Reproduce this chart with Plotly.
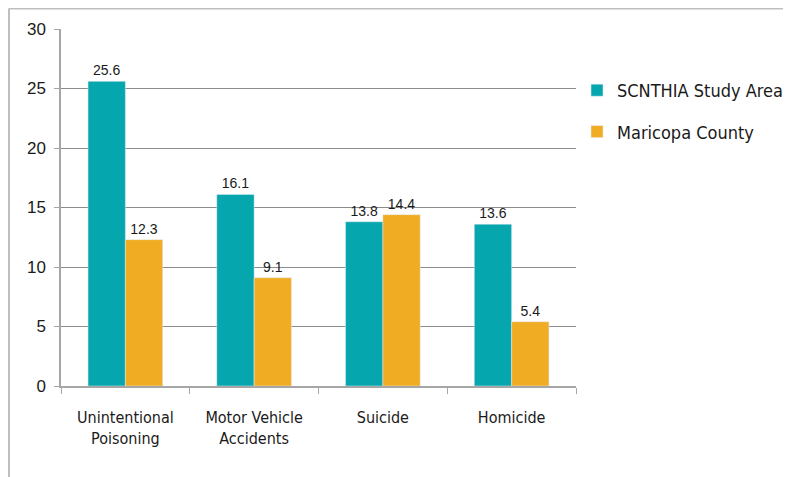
import plotly.graph_objects as go

categories = ["Unintentional<br>Poisoning", "Motor Vehicle<br>Accidents", "Suicide", "Homicide"]
scnthia = [25.6, 16.1, 13.8, 13.6]
maricopa = [12.3, 9.1, 14.4, 5.4]
series_names = ["SCNTHIA Study Area", "Maricopa County"]

narrow = "DejaVu Sans Condensed, Liberation Sans Narrow, Arial Narrow, Liberation Sans, sans-serif"
arial = "Liberation Sans, Arial, sans-serif"

fig = go.Figure()
fig.add_trace(go.Bar(x=categories, y=scnthia, name=series_names[0], marker_color="#05A6AE",
                     text=[f"{v:.1f}" for v in scnthia], textposition="outside",
                     textfont=dict(family=arial, size=14, color="#1a1a1a"),
                     cliponaxis=False, legendgroup="a"))
fig.add_trace(go.Bar(x=categories, y=maricopa, name=series_names[1], marker_color="#F0AC22",
                     text=[f"{v:.1f}" for v in maricopa], textposition="outside",
                     textfont=dict(family=arial, size=14, color="#1a1a1a"),
                     cliponaxis=False, legendgroup="b"))

# page is offset by 8px body margin
OFF = 8
W, H = 791 - OFF, 477 - OFF
L, T = 61 - OFF, 29 - OFF
R = W - (576 - OFF)
B = H - (386 - OFF)
pw, ph = W - L - R, H - T - B


def px(x):
    return (x - OFF - L) / pw


def py(y):
    return (H - B - (y - OFF)) / ph


fig.update_layout(
    width=W, height=H,
    margin=dict(l=L, r=R, t=T, b=B, autoexpand=False),
    paper_bgcolor="white", plot_bgcolor="white",
    barmode="group", bargap=0.42, bargroupgap=0,
    font=dict(family=narrow, size=16, color="#1a1a1a"),
    legend=dict(xref="container", yref="container", x=(577 - OFF) / W, y=1 - (72 - OFF) / H,
                xanchor="left", yanchor="top", itemwidth=30,
                font=dict(family=narrow, size=18, color="#1a1a1a"),
                tracegroupgap=15, bgcolor="rgba(0,0,0,0)"),
    xaxis=dict(showline=True, linecolor="#a6a6a6", linewidth=1.5, automargin=False,
               ticks="outside", tickson="boundaries", ticklen=6, tickcolor="#a6a6a6",
               ticklabelstandoff=16,
               tickfont=dict(family=narrow, size=16, color="#1a1a1a"),
               showgrid=False),
    yaxis=dict(range=[0, 30], dtick=5, showline=True, linecolor="#a6a6a6", linewidth=1.5,
               automargin=False, ticks="outside", ticklen=5, tickcolor="#a6a6a6",
               ticklabelstandoff=5,
               gridcolor="#8c8c8c", gridwidth=1, zeroline=False,
               tickfont=dict(family=arial, size=17, color="#1a1a1a")),
    shapes=[
        dict(type="line", xref="paper", yref="paper",
             x0=px(9), x1=px(9), y0=py(8.5), y1=py(490),
             line=dict(color="#bfbfbf", width=2)),
        dict(type="line", xref="paper", yref="paper",
             x0=px(9), x1=px(800), y0=py(8.5), y1=py(8.5),
             line=dict(color="#bfbfbf", width=2)),
    ],
)

fig.write_html("out.html")
